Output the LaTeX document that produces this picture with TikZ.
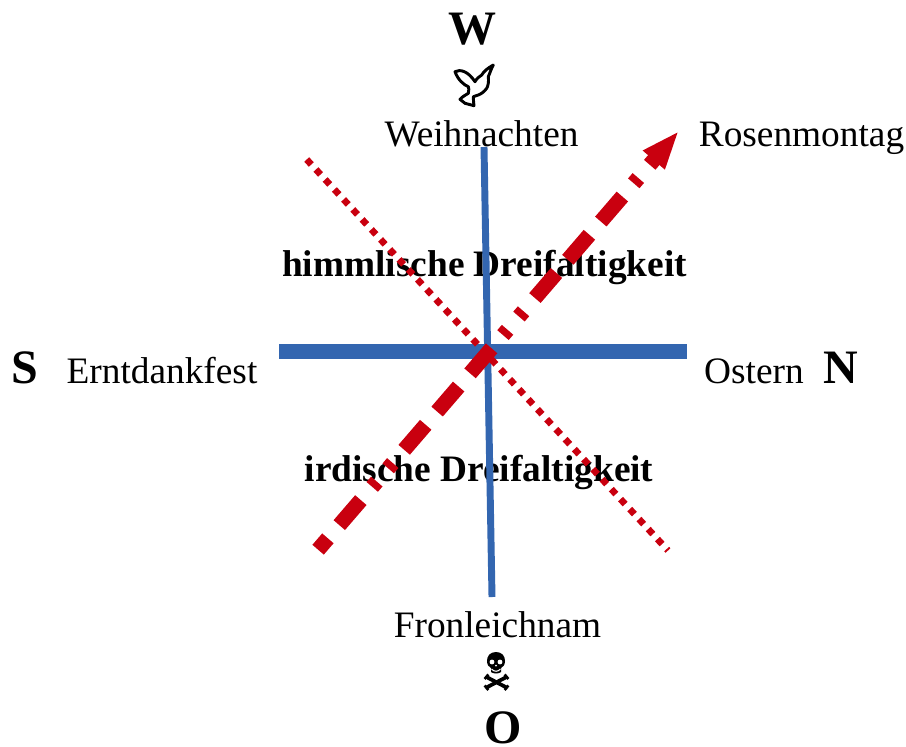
\documentclass[tikz,border=0pt]{standalone}
\usepackage{fontspec}
\setmainfont{Liberation Serif}
\usetikzlibrary{arrows.meta}
\definecolor{bluel}{HTML}{3366B0}
\definecolor{redl}{HTML}{C9000F}
\tikzset{
  lab/.style={inner sep=0pt,anchor=base,font=\fontsize{28}{32}\selectfont},
  dirl/.style={inner sep=0pt,anchor=base,font=\fontsize{36}{40}\selectfont\bfseries},
  trin/.style={inner sep=0pt,anchor=base,font=\fontsize{28}{32}\selectfont\bfseries},
  bluebar/.style={draw=bluel,line width=#1},
  redthick/.style={draw=redl,line width=11.3pt,dash pattern=on 24.75pt off 13.1pt on 24.75pt off 13.1pt on 5.25pt off 13.1pt on 5.25pt off 13.1pt on 24.75pt off 13.1pt,dash phase=13.5pt,-{Triangle[length=29pt,width=19.5pt,fill=redl]}},
  reddot/.style={draw=redl,line width=5pt,dash pattern=on 5.1pt off 5.1pt},
  bone/.style={draw=black,line width=2.8pt,line cap=round},
  knob/.style={fill=black,draw=none},
}
\begin{document}
\begin{tikzpicture}[x=0.75pt,y=-0.75pt]
\useasboundingbox (0,0) rectangle (906,746);
% texts lie under the lines
\node[dirl] (w) at (472,44) {W};
\node[lab] (weih) at (481.5,146.5) {Weihnachten};
\node[lab] (rose) at (801.5,146.5) {Rosenmontag};
\node[dirl] (s) at (25,383) {S};
\node[lab] (ernt) at (162,383) {Erntdankfest};
\node[lab] (ost) at (754,383) {Ostern};
\node[dirl] (n) at (840.5,383) {N};
\node[trin] (him) at (484.5,276) {himmlische Dreifaltigkeit};
\node[trin] (ird) at (479,481.5) {irdische Dreifaltigkeit};
\node[lab] (fron) at (497.5,637.5) {Fronleichnam};
\node[dirl] (o) at (503,743) {O};
% cross and diagonals
\coordinate (bt) at (484,147);
\coordinate (bb) at (492,597);
\coordinate (bl) at (279,351.5);
\coordinate (br) at (687,351.5);
\coordinate (da) at (306.7,159.5);
\coordinate (db) at (668,550.5);
\coordinate (ra) at (318.1,549.7);
\coordinate (rb) at (679,130.8);
\draw[bluebar=5.2pt] (bt) -- (bb);
\draw[bluebar=11.2pt] (bl) -- (br);
\draw[reddot] (da) -- (db);
\draw[redthick] (ra) -- (rb);
% dove
\draw[black,line width=2.2pt,line join=round]
  (455,71.7) .. controls (460,69) and (468,71) .. (475,81.7)
  .. controls (477,78) and (479,77) .. (481.7,75)
  .. controls (484,71) and (488,68) .. (493.3,65)
  .. controls (491,69) and (490,73) .. (488.3,76.7)
  .. controls (489,82) and (488,86) .. (486.7,88.3)
  .. controls (484,92) and (481,94) .. (478.3,95)
  -- (473.3,96.7)
  .. controls (473,100) and (474,103) .. (474,105.7)
  -- (465,103.3) -- (460,99.3)
  .. controls (463,96) and (466,95) .. (468.3,93.3)
  .. controls (469,90) and (469,88) .. (468.3,86.7)
  .. controls (464,85) and (458,80) .. (455,71.7) -- cycle;
% skull and crossbones
\fill[black] (496,652) .. controls (490,652) and (487,656) .. (487,661)
  .. controls (487,665) and (489,667) .. (491,668)
  -- (491,672) .. controls (493,674) and (499,674) .. (501,672)
  -- (501,668) .. controls (503,667) and (505,665) .. (505,661)
  .. controls (505,656) and (502,652) .. (496,652) -- cycle;
\fill[white] (492,662) circle[radius=2.4];
\fill[white] (500,662) circle[radius=2.4];
\fill[white] (496,665.5) circle[radius=1];
\draw[white,line width=0.8pt] (491.5,669) .. controls (494,672) and (498,672) .. (500.5,669);
\draw[bone] (486.5,677) -- (506.5,687.5);
\draw[bone] (506.5,677) -- (486.5,687.5);
\foreach \kx/\ky in {485.5/678,487.5/675.5,505.5/675.5,507.5/678,485.5/686.5,487.5/689,505.5/689,507.5/686.5}
  \fill[knob] (\kx,\ky) circle[radius=1.9];
\end{tikzpicture}
\end{document}
